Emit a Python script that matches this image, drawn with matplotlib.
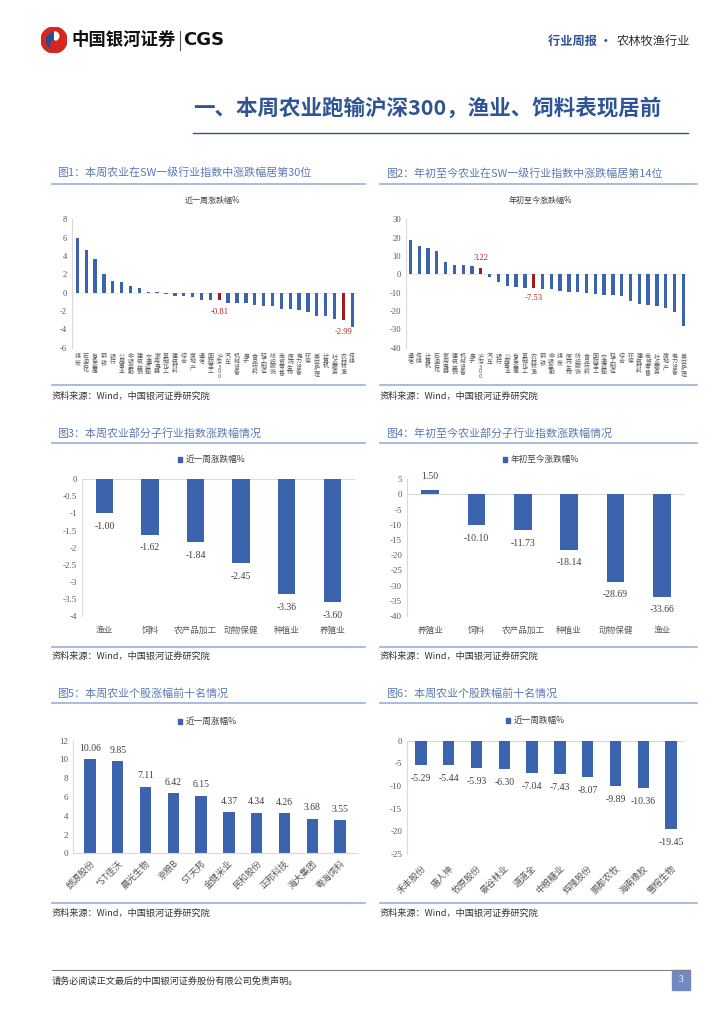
import matplotlib
matplotlib.use("Agg")
import matplotlib.pyplot as plt
import numpy as np
from matplotlib.lines import Line2D
from matplotlib.patches import Rectangle, Circle, Wedge

plt.rcParams['font.family'] = ['Noto Sans CJK SC', 'DejaVu Sans']
plt.rcParams['axes.unicode_minus'] = False

# ---------------- data ----------------
ind1 = ["煤炭", "石油石化", "有色金属", "钢铁", "银行", "公用事业", "非银金融", "建筑装饰",
        "交通运输", "家用电器", "基础化工", "建筑材料", "综合", "房地产", "通信", "国防军工",
        "沪深300", "汽车", "机械设备", "电子", "食品饮料", "轻工制造", "纺织服饰", "商贸零售",
        "医药生物", "电力设备", "环保", "美容护理", "计算机", "社会服务", "农林牧渔", "传媒"]
val1 = [6.0, 4.7, 3.67, 2.09, 1.32, 1.17, 0.73, 0.55, 0.04, 0.03, -0.15, -0.40, -0.40, -0.42,
        -0.77, -0.80, -0.81, -1.10, -1.17, -1.17, -1.30, -1.43, -1.47, -1.76, -1.76, -1.87,
        -2.09, -2.50, -2.57, -2.83, -2.99, -3.74]
hl1 = ["沪深300", "农林牧渔"]

ind2 = ["通信", "传媒", "计算机", "石油石化", "家用电器", "建筑装饰", "机械设备", "电子",
        "沪深300", "汽车", "银行", "公用事业", "有色金属", "基础化工", "农林牧渔", "钢铁",
        "非银金融", "煤炭", "医药生物", "纺织服饰", "食品饮料", "国防军工", "交通运输", "轻工制造",
        "综合", "环保", "建筑材料", "商贸零售", "社会服务", "房地产", "电力设备", "美容护理"]
val2 = [18.5, 15.3, 14.5, 12.9, 6.7, 5.3, 5.3, 4.4, 3.22, -1.5, -4.0, -6.2, -6.9, -7.5, -7.53,
        -8.0, -8.0, -9.1, -9.8, -9.8, -10.2, -10.7, -11.3, -11.5, -11.6, -14.7, -16.0, -16.5,
        -17.5, -18.2, -20.7, -28.4]
hl2 = ["沪深300", "农林牧渔"]

sub3 = ["渔业", "饲料", "农产品加工", "动物保健", "种植业", "养殖业"]
val3 = [-1.00, -1.62, -1.84, -2.45, -3.36, -3.60]
yt3 = [0, -0.5, -1, -1.5, -2, -2.5, -3, -3.5, -4]

sub4 = ["养殖业", "饲料", "农产品加工", "种植业", "动物保健", "渔业"]
val4 = [1.50, -10.10, -11.73, -18.14, -28.69, -33.66]
yt4 = [5, 0, -5, -10, -15, -20, -25, -30, -35, -40]

stk5 = ["朗源股份", "*ST佳沃", "晨光生物", "京粮B", "ST天邦", "金健米业", "民和股份",
        "正邦科技", "海大集团", "粤海饲料"]
val5 = [10.06, 9.85, 7.11, 6.42, 6.15, 4.37, 4.34, 4.26, 3.68, 3.55]
yt5 = [0, 2, 4, 6, 8, 10, 12]

stk6 = ["禾丰股份", "唐人神", "牧原股份", "景谷林业", "道道全", "中粮糖业", "辉隆股份",
        "鹏都农牧", "海南橡胶", "雪榕生物"]
val6 = [-5.29, -5.44, -5.93, -6.30, -7.04, -7.43, -8.07, -9.89, -10.36, -19.45]
yt6 = [0, -5, -10, -15, -20, -25]

# ---------------- style ----------------
W, H = 724, 1024
BLUE = "#3c63ae"
RED = "#a11d1d"
REDTXT = "#b22222"
TITLE_C = "#5a79b6"
LINE_C = "#9bb0d8"
GRID = "#d9d9d9"
TXT = "#404040"
NUMFONT = "Liberation Serif"

fig = plt.figure(figsize=(7.24, 10.24), dpi=100)


def fx(x):
    return x / W


def fy(y):
    return 1 - y / H


def add_ax(x0, y0, x1, y1):
    return fig.add_axes([x0 / W, 1 - y1 / H, (x1 - x0) / W, (y1 - y0) / H])


def hline(x0, x1, y, color, lw):
    fig.add_artist(Line2D([fx(x0), fx(x1)], [fy(y), fy(y)], transform=fig.transFigure,
                          color=color, lw=lw))


def ftext(x, y, s, **kw):
    fig.text(fx(x), fy(y), s, **kw)


def base_style(ax):
    for s in ["top", "right", "bottom"]:
        ax.spines[s].set_visible(False)
    ax.spines["left"].set_color(GRID)
    ax.spines["left"].set_linewidth(0.8)
    ax.tick_params(axis="both", length=0, colors="#595959")
    for lab in ax.get_yticklabels():
        lab.set_fontfamily(NUMFONT)


# ---------------- header ----------------
lax = fig.add_axes([fx(41), fy(53), 26 / W, 26 / H])
lax.set_xlim(-1, 1)
lax.set_ylim(-1, 1)
lax.set_aspect("equal")
lax.axis("off")
lax.add_patch(Circle((0, 0), 1, color="#d7261e"))
lax.add_patch(Wedge((0.05, -0.05), 0.62, 90, 270, color="#1f4e9c"))
lax.add_patch(Wedge((0.05, 0.3), 0.32, 270, 90, color="white"))
lax.add_patch(Wedge((0.05, -0.35), 0.3, 90, 270, color="#d7261e"))

ftext(71, 40, "中国银河证券", fontsize=12.5, fontweight="bold", color="#111111", va="center")
fig.add_artist(Line2D([fx(180), fx(180)], [fy(31), fy(50)], transform=fig.transFigure,
                      color="#555555", lw=0.8))
ftext(183, 40, "CGS", fontsize=13, fontweight="bold", color="#111111", va="center",
      family="DejaVu Sans")
ftext(612, 41, "行业周报 ·", fontsize=8.8, fontweight="bold", color="#2f5496", va="center",
      ha="right")
ftext(617, 41, "农林牧渔行业", fontsize=8.8, color="#333333", va="center", ha="left")

ftext(193, 108, "一、本周农业跑输沪深300，渔业、饲料表现居前", fontsize=15.5,
      fontweight="bold", color="#2f5496", va="center")
hline(193, 688, 133, "#2f5496", 1.0)

# ---------------- panel frames ----------------
titles = [
    (57, 173, "图1：本周农业在SW一级行业指数中涨跌幅居第30位"),
    (386, 173, "图2：年初至今农业在SW一级行业指数中涨跌幅居第14位"),
    (57, 433, "图3：本周农业部分子行业指数涨跌幅情况"),
    (386, 433, "图4：年初至今农业部分子行业指数涨跌幅情况"),
    (57, 693, "图5：本周农业个股涨幅前十名情况"),
    (386, 693, "图6：本周农业个股跌幅前十名情况"),
]
for x, y, t in titles:
    ftext(x, y, t, fontsize=7.9, color=TITLE_C, va="center")

for (x0, x1) in [(52, 365), (380, 697)]:
    for y in [183.5, 443, 703]:
        hline(x0, x1, y, LINE_C, 1.2)
    for y in [385, 647, 903]:
        hline(x0, x1, y, LINE_C, 1.2)

src = "资料来源：Wind，中国银河证券研究院"
for x in [52, 380]:
    for y in [396, 656, 913]:
        ftext(x, y, src, fontsize=6.6, color="#333333", va="center", style="italic")

# ---------------- fig1 ----------------
ax1 = add_ax(72, 219.3, 357.6, 347.7)
x1 = np.arange(len(ind1))
c1 = [RED if n in hl1 else BLUE for n in ind1]
ax1.bar(x1, val1, width=0.38, color=c1)
ax1.set_xlim(-0.6, len(ind1) - 0.4)
ax1.set_ylim(-6, 8)
ax1.set_yticks(range(-6, 9, 2))
ax1.set_xticks(x1)
ax1.set_xticklabels(["\n".join(n) for n in ind1], fontsize=4.3, linespacing=0.95,
                    va="top", color="#595959")
ax1.tick_params(axis="x", pad=4.5)
ax1.tick_params(axis="y", labelsize=6.2)
ax1.axhline(0, color="#e6e6e6", lw=0.5, zorder=0)
base_style(ax1)
for i, (n, v) in enumerate(zip(ind1, val1)):
    if n in hl1:
        ax1.text(i, v - 1.35, f"{v:.2f}", color=REDTXT, ha="center", va="center",
                 fontsize=6.2, family=NUMFONT)
ftext(212, 200.7, "近一周涨跌幅%", fontsize=5.8, color=TXT, ha="center", va="center")

# ---------------- fig2 ----------------
ax2 = add_ax(406, 219.3, 687.7, 347.7)
x2 = np.arange(len(ind2))
c2 = [RED if n in hl2 else BLUE for n in ind2]
ax2.bar(x2, val2, width=0.38, color=c2)
ax2.set_xlim(-0.5, len(ind2) - 0.5)
ax2.set_ylim(-40, 30)
ax2.set_yticks(range(-40, 31, 10))
ax2.set_xticks(x2)
ax2.set_xticklabels(["\n".join(n) for n in ind2], fontsize=4.3, linespacing=0.95,
                    va="top", color="#595959")
ax2.tick_params(axis="x", pad=4.5)
ax2.tick_params(axis="y", labelsize=6.2)
ax2.axhline(0, color="#e6e6e6", lw=0.5, zorder=0)
base_style(ax2)
for i, (n, v) in enumerate(zip(ind2, val2)):
    if n in hl2:
        off = 5.8 if v > 0 else -5.6
        ax2.text(i, v + off, f"{v:.2f}", color=REDTXT, ha="center", va="center",
                 fontsize=6.2, family=NUMFONT)
ftext(540, 200.7, "年初至今涨跌幅%", fontsize=5.8, color=TXT, ha="center", va="center")


# ---------------- fig3 / fig4 ----------------
def sub_chart(box, cats, vals, yt, ylim, off, legend_x, legend_label):
    ax = add_ax(*box)
    xs = np.arange(len(cats))
    ax.bar(xs, vals, width=0.38, color=BLUE, zorder=2)
    ax.set_xlim(-0.5, len(cats) - 0.5)
    ax.set_ylim(*ylim)
    ax.set_yticks(yt)
    ax.set_yticklabels([f"{t:g}" for t in yt])
    ax.set_xticks(xs)
    ax.set_xticklabels(cats, fontsize=6.2, color=TXT)
    ax.tick_params(axis="x", pad=7.3)
    ax.tick_params(axis="y", labelsize=6.5)
    ax.axhline(0, color=GRID, lw=0.8, zorder=1)
    base_style(ax)
    for i, v in enumerate(vals):
        yy = v + off if v > 0 else v - off
        ax.text(i, yy, f"{v:.2f}", ha="center", va="center", fontsize=7,
                family=NUMFONT, color=TXT)
    fig.add_artist(Rectangle((fx(legend_x), fy(461.5)), 4.8 / W, 4.8 / H,
                             transform=fig.transFigure, color=BLUE))
    ftext(legend_x + 8, 459, legend_label, fontsize=6.2, color=TXT, va="center")
    return ax


sub_chart((81.7, 479.3, 355, 616), sub3, val3, yt3, (-4, 0), 0.39, 177.7, "近一周涨跌幅%")
sub_chart((407, 479.3, 685, 616), sub4, val4, yt4, (-40, 5), 4.3, 502.5, "年初至今涨跌幅%")

# ---------------- fig5 ----------------
ax5 = add_ax(73, 740.7, 357, 853.3)
x5 = np.arange(len(stk5))
ax5.bar(x5, val5, width=0.41, color=BLUE, zorder=2)
ax5.set_xlim(-0.61, len(stk5) - 0.39)
ax5.set_ylim(0, 12)
ax5.set_yticks(yt5)
ax5.set_xticks(x5)
ax5.set_xticklabels(stk5, rotation=45, ha="right", va="top", rotation_mode="anchor",
                    fontsize=6.5, color="#333333")
ax5.tick_params(axis="x", pad=4)
ax5.tick_params(axis="y", labelsize=6.5)
base_style(ax5)
ax5.spines["bottom"].set_visible(True)
ax5.spines["bottom"].set_color(GRID)
for i, v in enumerate(val5):
    ax5.text(i, v + 1.15, f"{v:.2f}", ha="center", va="center", fontsize=7,
             family=NUMFONT, color=TXT)
fig.add_artist(Rectangle((fx(177.7), fy(724)), 4.8 / W, 4.8 / H,
                         transform=fig.transFigure, color=BLUE))
ftext(185.7, 721.7, "近一周涨幅%", fontsize=6.2, color=TXT, va="center")

# ---------------- fig6 ----------------
ax6 = add_ax(407, 740.7, 685, 854)
x6 = np.arange(len(stk6))
ax6.bar(x6, val6, width=0.41, color=BLUE, zorder=2)
ax6.set_xlim(-0.5, len(stk6) - 0.5)
ax6.set_ylim(-25, 0)
ax6.set_yticks(yt6)
ax6.set_xticks(x6)
ax6.set_xticklabels(stk6, rotation=45, ha="right", va="top", rotation_mode="anchor",
                    fontsize=6.5, color="#333333")
ax6.tick_params(axis="x", pad=7)
ax6.tick_params(axis="y", labelsize=6.5)
ax6.axhline(0, color=GRID, lw=0.8, zorder=1)
base_style(ax6)
for i, v in enumerate(val6):
    ax6.text(i, v - 3.0, f"{v:.2f}", ha="center", va="center", fontsize=7,
             family=NUMFONT, color=TXT)
fig.add_artist(Rectangle((fx(505.5), fy(723)), 4.8 / W, 4.8 / H,
                         transform=fig.transFigure, color=BLUE))
ftext(513.5, 720.7, "近一周跌幅%", fontsize=6.2, color=TXT, va="center")

# ---------------- footer ----------------
hline(52, 690, 969.5, "#808080", 0.8)
ftext(52, 981, "请务必阅读正文最后的中国银河证券股份有限公司免责声明。", fontsize=6.6,
      color="#333333", va="center")
fig.add_artist(Rectangle((fx(672), fy(990)), 18 / W, 20.5 / H, transform=fig.transFigure,
                         color="#7189c0"))
ftext(681, 980, "3", fontsize=7, color="white", ha="center", va="center", family=NUMFONT)

fig.savefig("out.png", dpi=100)
